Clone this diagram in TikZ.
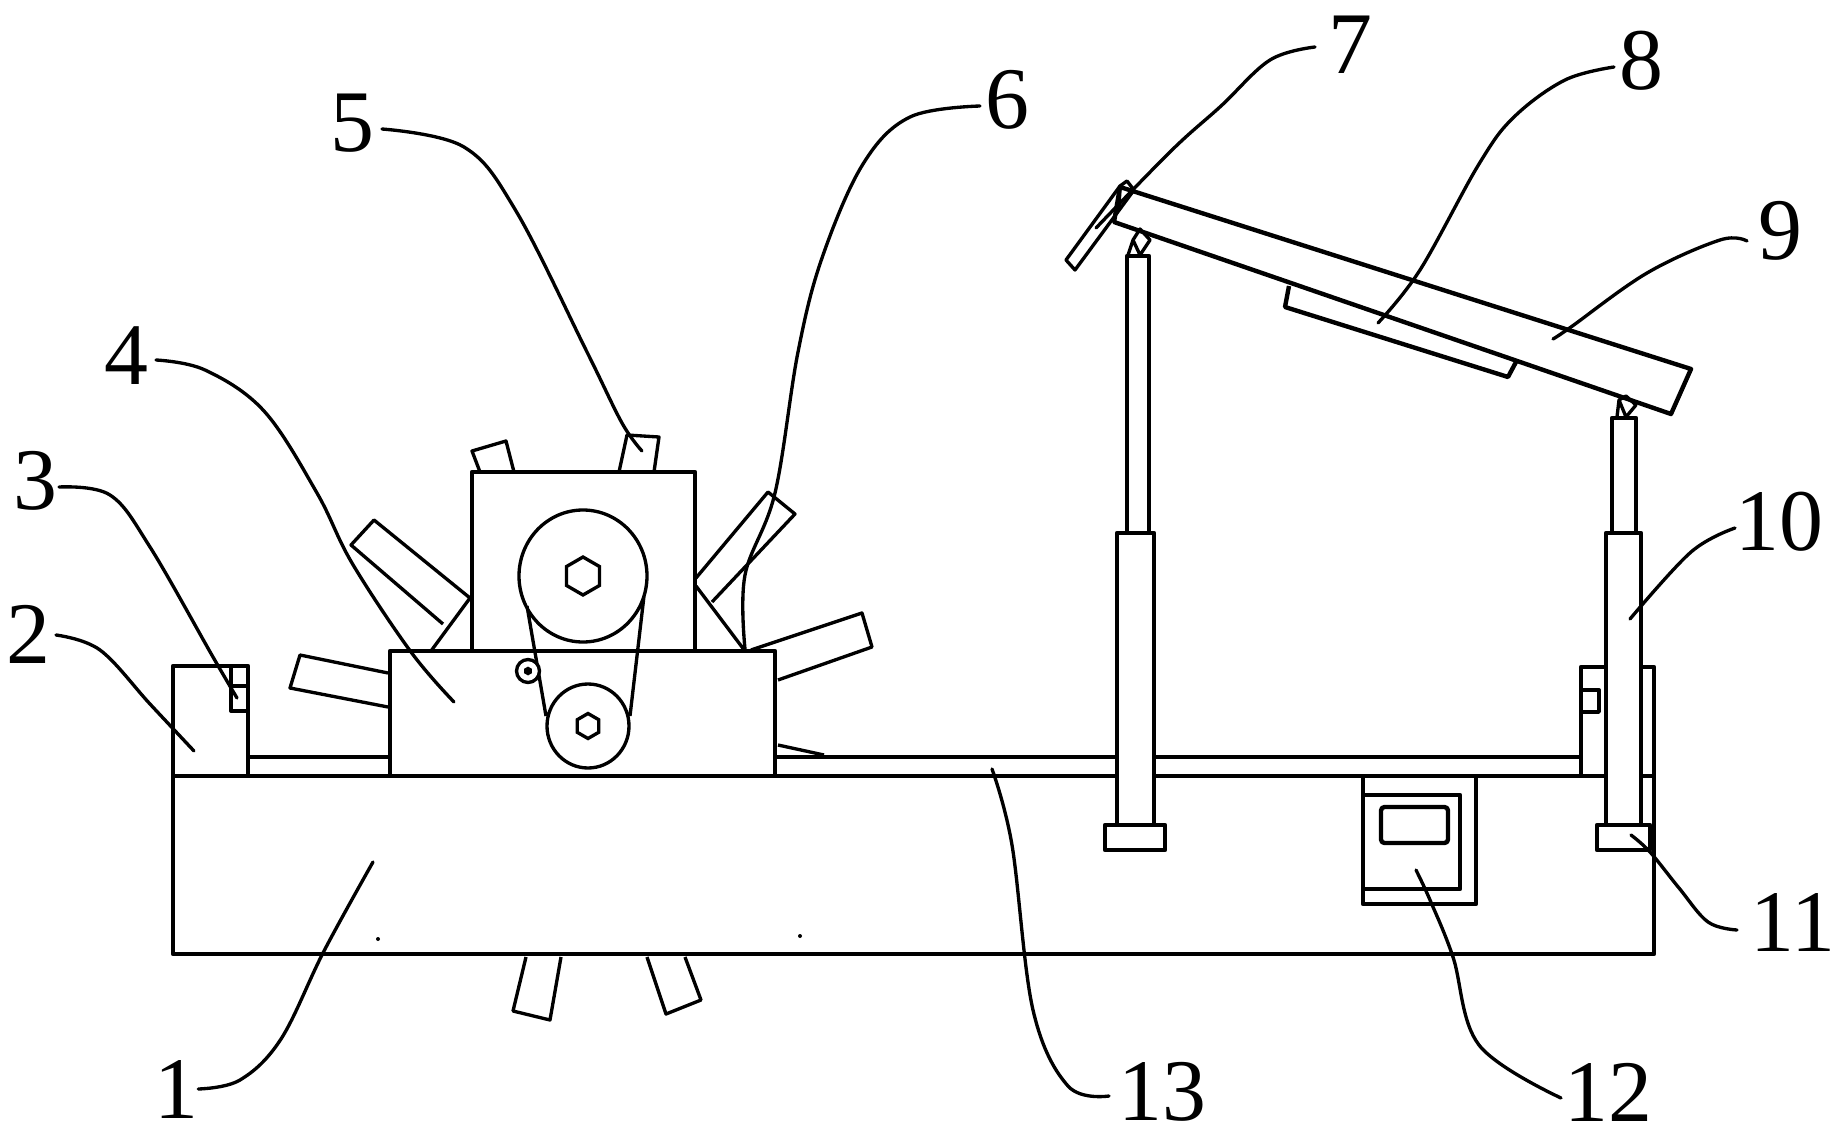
\documentclass[tikz,border=0pt]{standalone}
\usepackage{fontspec}
\setmainfont{Liberation Serif}
\usetikzlibrary{shapes.geometric}

\tikzset{
    part/.style={draw, line width=2.5pt, line join=round},
    thinpart/.style={draw, line width=1.9pt, line join=round},
    leader/.style={draw, line width=1.9pt, line cap=round},
    numlabel/.style={inner sep=0pt, font=\fontsize{50}{50}\selectfont},
    hexhole/.style={draw, line width=1.9pt, regular polygon, regular polygon sides=6, shape border rotate=30, inner sep=0pt}
}

\begin{document}
\begin{tikzpicture}[x=0.02cm, y=-0.02cm]
    \useasboundingbox (0, 0) rectangle (1837, 1139);

    % base, rail and end blocks
    \draw[part]
    (173, 776) rectangle (1654, 954)
    (248, 757) -- (390, 757)
    (775, 757) -- (1581, 757)
    (173, 776) -- (173, 666) -- (248, 666) -- (248, 776)
    (1581, 776) -- (1581, 667) -- (1654, 667) -- (1654, 776);
    \draw[thinpart]
    (231, 666) -- (231, 711) -- (248, 711)
    (231, 686) -- (248, 686)
    (1581, 712) -- (1599, 712) -- (1599, 690) -- (1581, 690);
    \fill (378, 939) circle (2) (800, 936) circle (2);

    % rotor blades behind the housing
    \draw[thinpart]
    (480, 472) -- (472, 451) -- (506, 441) -- (514, 472)
    (619, 472) -- (627, 435) -- (659, 437) -- (654, 472)
    (470, 598) -- (374, 520) -- (351, 545) -- (443, 624)
    (470, 598) -- (431, 651)
    (696, 578) -- (768, 492) -- (795, 514) -- (712, 602)
    (696, 586) -- (745, 651)
    (751, 650) -- (862, 613) -- (872, 647) -- (778, 680)
    (388, 673) -- (300, 655) -- (290, 688) -- (388, 707)
    (778, 745) -- (824, 755)
    (526, 957) -- (513, 1011) -- (550, 1020) -- (561, 957)
    (647, 957) -- (666, 1014) -- (701, 1000) -- (685, 957);

    % housing and gearbox
    \draw[part]
    (472, 651) -- (472, 472) -- (695, 472) -- (695, 651)
    (390, 776) -- (390, 651) -- (775, 651) -- (775, 776);

    % belt drive
    \draw[thinpart]
    (583, 576) ellipse (64 and 66)
    (588, 726) ellipse (41 and 42)
    (527, 606) -- (546, 716)
    (644, 596) -- (630, 716);
    \node[hexhole, minimum size=0.76cm] (bigHub) at (583, 576) {};
    \node[hexhole, minimum size=0.5cm] (smallHub) at (588, 726) {};
    \node[circle, thinpart, fill=white, minimum size=0.46cm, inner sep=0pt] (knob) at (528, 671) {};
    \node[hexhole, fill=black, minimum size=0.1cm] (knobHole) at (528, 671) {};

    % controller
    \draw[part]
    (1363, 776) -- (1363, 904) -- (1476, 904) -- (1476, 776)
    (1363, 795) -- (1460, 795) -- (1460, 889) -- (1363, 889);
    \draw[part, rounded corners=2pt] (1381, 807) rectangle (1448, 843);

    % lifting cylinders
    \draw[part, fill=white]
    (1127, 533) -- (1127, 256) -- (1149, 256) -- (1149, 533)
    (1612, 533) -- (1612, 418) -- (1636, 418) -- (1636, 533);
    \draw[part, fill=white]
    (1117, 825) -- (1117, 533) -- (1154, 533) -- (1154, 825)
    (1606, 825) -- (1606, 533) -- (1641, 533) -- (1641, 825);
    \draw[part, fill=white]
    (1105, 825) rectangle (1165, 850)
    (1597, 825) rectangle (1650, 850);

    % hinges
    \draw[thinpart]
    (1128, 255) -- (1133, 240) -- (1140, 229) -- (1150, 240) -- (1140, 255) -- (1133, 240)
    (1617, 417) -- (1619, 400) -- (1626, 396) -- (1636, 405) -- (1626, 417) -- (1619, 400);

    % tilting panel
    \draw[part]
    (1120, 187) -- (1691, 369) -- (1671, 414) -- (1114, 222) -- cycle;
    \draw[thinpart]
    (1066, 260) -- (1120, 186) -- (1127, 181) -- (1134, 190) -- (1075, 270) -- cycle
    (1120, 186) -- (1119, 210);
    \draw[part]
    (1289, 286) -- (1285, 307) -- (1508, 377) -- (1516, 362);

    % numbers
    \node[numlabel] (lab1) at (176, 1089) {1};
    \node[numlabel] (lab2) at (28, 634) {2};
    \node[numlabel] (lab3) at (35, 481) {3};
    \node[numlabel] (lab4) at (126, 356) {4};
    \node[numlabel] (lab5) at (352, 123) {5};
    \node[numlabel] (lab6) at (1007, 100) {6};
    \node[numlabel] (lab7) at (1350, 45) {7};
    \node[numlabel] (lab8) at (1641, 61) {8};
    \node[numlabel] (lab9) at (1780, 231) {9};
    \node[numlabel] (lab10) at (1779, 522) {10};
    \node[numlabel] (lab11) at (1793, 922) {11};
    \node[numlabel] (lab12) at (1608, 1092) {12};
    \node[numlabel] (lab13) at (1162, 1092) {13};

    % leader ends
    \coordinate (tip1) at (373, 862);
    \coordinate (tip2) at (194, 751);
    \coordinate (tip3) at (237, 698);
    \coordinate (tip4) at (454, 702);
    \coordinate (tip5) at (642, 451);
    \coordinate (tip6) at (745, 649);
    \coordinate (tip7) at (1096, 228);
    \coordinate (tip8) at (1378, 323);
    \coordinate (tip9) at (1553, 339);
    \coordinate (tip10) at (1630, 619);
    \coordinate (tip11) at (1631, 835);
    \coordinate (tip12) at (1416, 870);
    \coordinate (tip13) at (992, 769);

    \draw[leader] plot[smooth, tension=0.6] coordinates {(lab1.east) (240, 1080) (281, 1039) (324, 951) (tip1)};
    \draw[leader] plot[smooth, tension=0.6] coordinates {(56, 635) (100, 650) (150, 704) (tip2)};
    \draw[leader] plot[smooth, tension=0.6] coordinates {(59, 487) (110, 495) (150, 547) (213, 657) (tip3)};
    \draw[leader] plot[smooth, tension=0.6] coordinates {(156, 360) (205, 370) (264, 411) (317, 493) (352, 563) (411, 652) (tip4)};
    \draw[leader] plot[smooth, tension=0.6] coordinates {(382, 129) (464, 147) (516, 211) (587, 352) (622, 423) (tip5)};
    \draw[leader] plot[smooth, tension=0.6] coordinates {(980, 106) (910, 117) (863, 164) (822, 258) (798, 352) (775, 493) (745, 575) (tip6)};
    \draw[leader] plot[smooth, tension=0.6] coordinates {(1315, 47) (1270, 60) (1221, 106) (1172, 150) (tip7)};
    \draw[leader] plot[smooth, tension=0.6] coordinates {(1614, 67) (1565, 80) (1514, 117) (1479, 164) (1420, 270) (tip8)};
    \draw[leader] plot[smooth, tension=0.6] coordinates {(1747, 241) (1720, 240) (1647, 273) (1571, 327) (tip9)};
    \draw[leader] plot[smooth, tension=0.6] coordinates {(1735, 528) (1691, 552) (tip10)};
    \draw[leader] plot[smooth, tension=0.6] coordinates {(tip11) (1650, 852) (1679, 888) (1708, 922) (1737, 930)};
    \draw[leader] plot[smooth, tension=0.6] coordinates {(tip12) (1430, 900) (1453, 957) (1479, 1045) (1561, 1098)};
    \draw[leader] plot[smooth, tension=0.6] coordinates {(tip13) (1012, 845) (1033, 1010) (1068, 1086) (1109, 1096)};
\end{tikzpicture}
\end{document}
